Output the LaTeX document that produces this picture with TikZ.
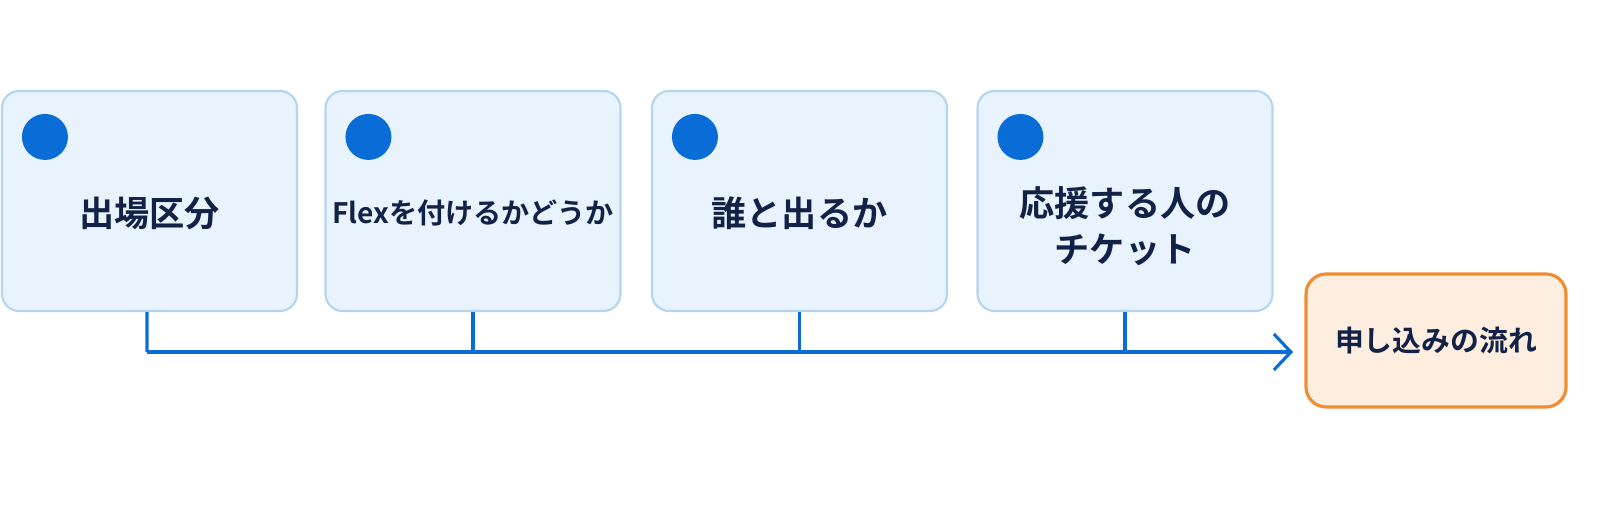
\documentclass[tikz,border=0pt]{standalone}
\usepackage{fontspec}
\setmainfont{Noto Sans CJK JP}[BoldFont={Noto Sans CJK JP Bold}]
\usetikzlibrary{positioning,arrows.meta}
\definecolor{cardfill}{RGB}{232,243,253}
\definecolor{cardline}{RGB}{180,212,240}
\definecolor{dotblue}{RGB}{10,108,214}
\definecolor{navy}{RGB}{18,34,70}
\definecolor{goalfill}{RGB}{254,238,224}
\definecolor{goalline}{RGB}{240,140,50}
\tikzset{card/.style={draw=cardline, fill=cardfill, line width=0.6pt, rounded corners=0.17cm,
    minimum width=2.95cm, minimum height=2.2cm},
  dot/.style={circle, fill=dotblue, minimum size=0.46cm, inner sep=0pt},
  cardtext/.style={text=navy, font=\bfseries\fontsize{10}{13}\selectfont, align=center},
  goal/.style={draw=goalline, fill=goalfill, line width=0.9pt, rounded corners=0.2cm,
    minimum width=2.6cm, minimum height=1.33cm},
  flow/.style={draw=dotblue, line width=0.9pt},
}
\begin{document}
\begin{tikzpicture}
\useasboundingbox (0,0) rectangle (16,-5.09);
\node[card] (c1) at (1.495,-2.01) {};
\node[card] (c2) at (4.73,-2.01) {};
\node[card] (c3) at (7.995,-2.01) {};
\node[card] (c4) at (11.25,-2.01) {};
\node[goal] (g) at (14.36,-3.405) {};
\foreach \i in {1,...,4}
  \node[dot] (d\i) at ([xshift=0.44cm,yshift=-0.47cm]c\i.north west) {};
\node[cardtext] (t1) at ([yshift=-0.12cm]c1.center) {出場区分};
\node[cardtext, font=\bfseries\fontsize{8}{10}\selectfont] (t2) at ([yshift=-0.12cm]c2.center) {Flexを付けるかどうか};
\node[cardtext] (t3) at ([yshift=-0.12cm]c3.center) {誰と出るか};
\node[cardtext] (t4) at ([yshift=-0.25cm]c4.center) {応援する人の\\チケット};
\node[cardtext, font=\bfseries\fontsize{8.2}{10}\selectfont] (tg) at (g.center) {申し込みの流れ};
\coordinate (bend) at (1.47,-3.52);
\coordinate (tip) at (12.93,-3.52);
\draw[flow] ([xshift=-0.025cm]c1.south) -- (bend);
\draw[flow, -{Straight Barb[length=0.17cm,width=0.36cm,line width=0.9pt]}] (bend) -- (tip);
\foreach \i in {2,3,4}
  \draw[flow] (c\i.south) -- (c\i.south |- bend);
\end{tikzpicture}
\end{document}
